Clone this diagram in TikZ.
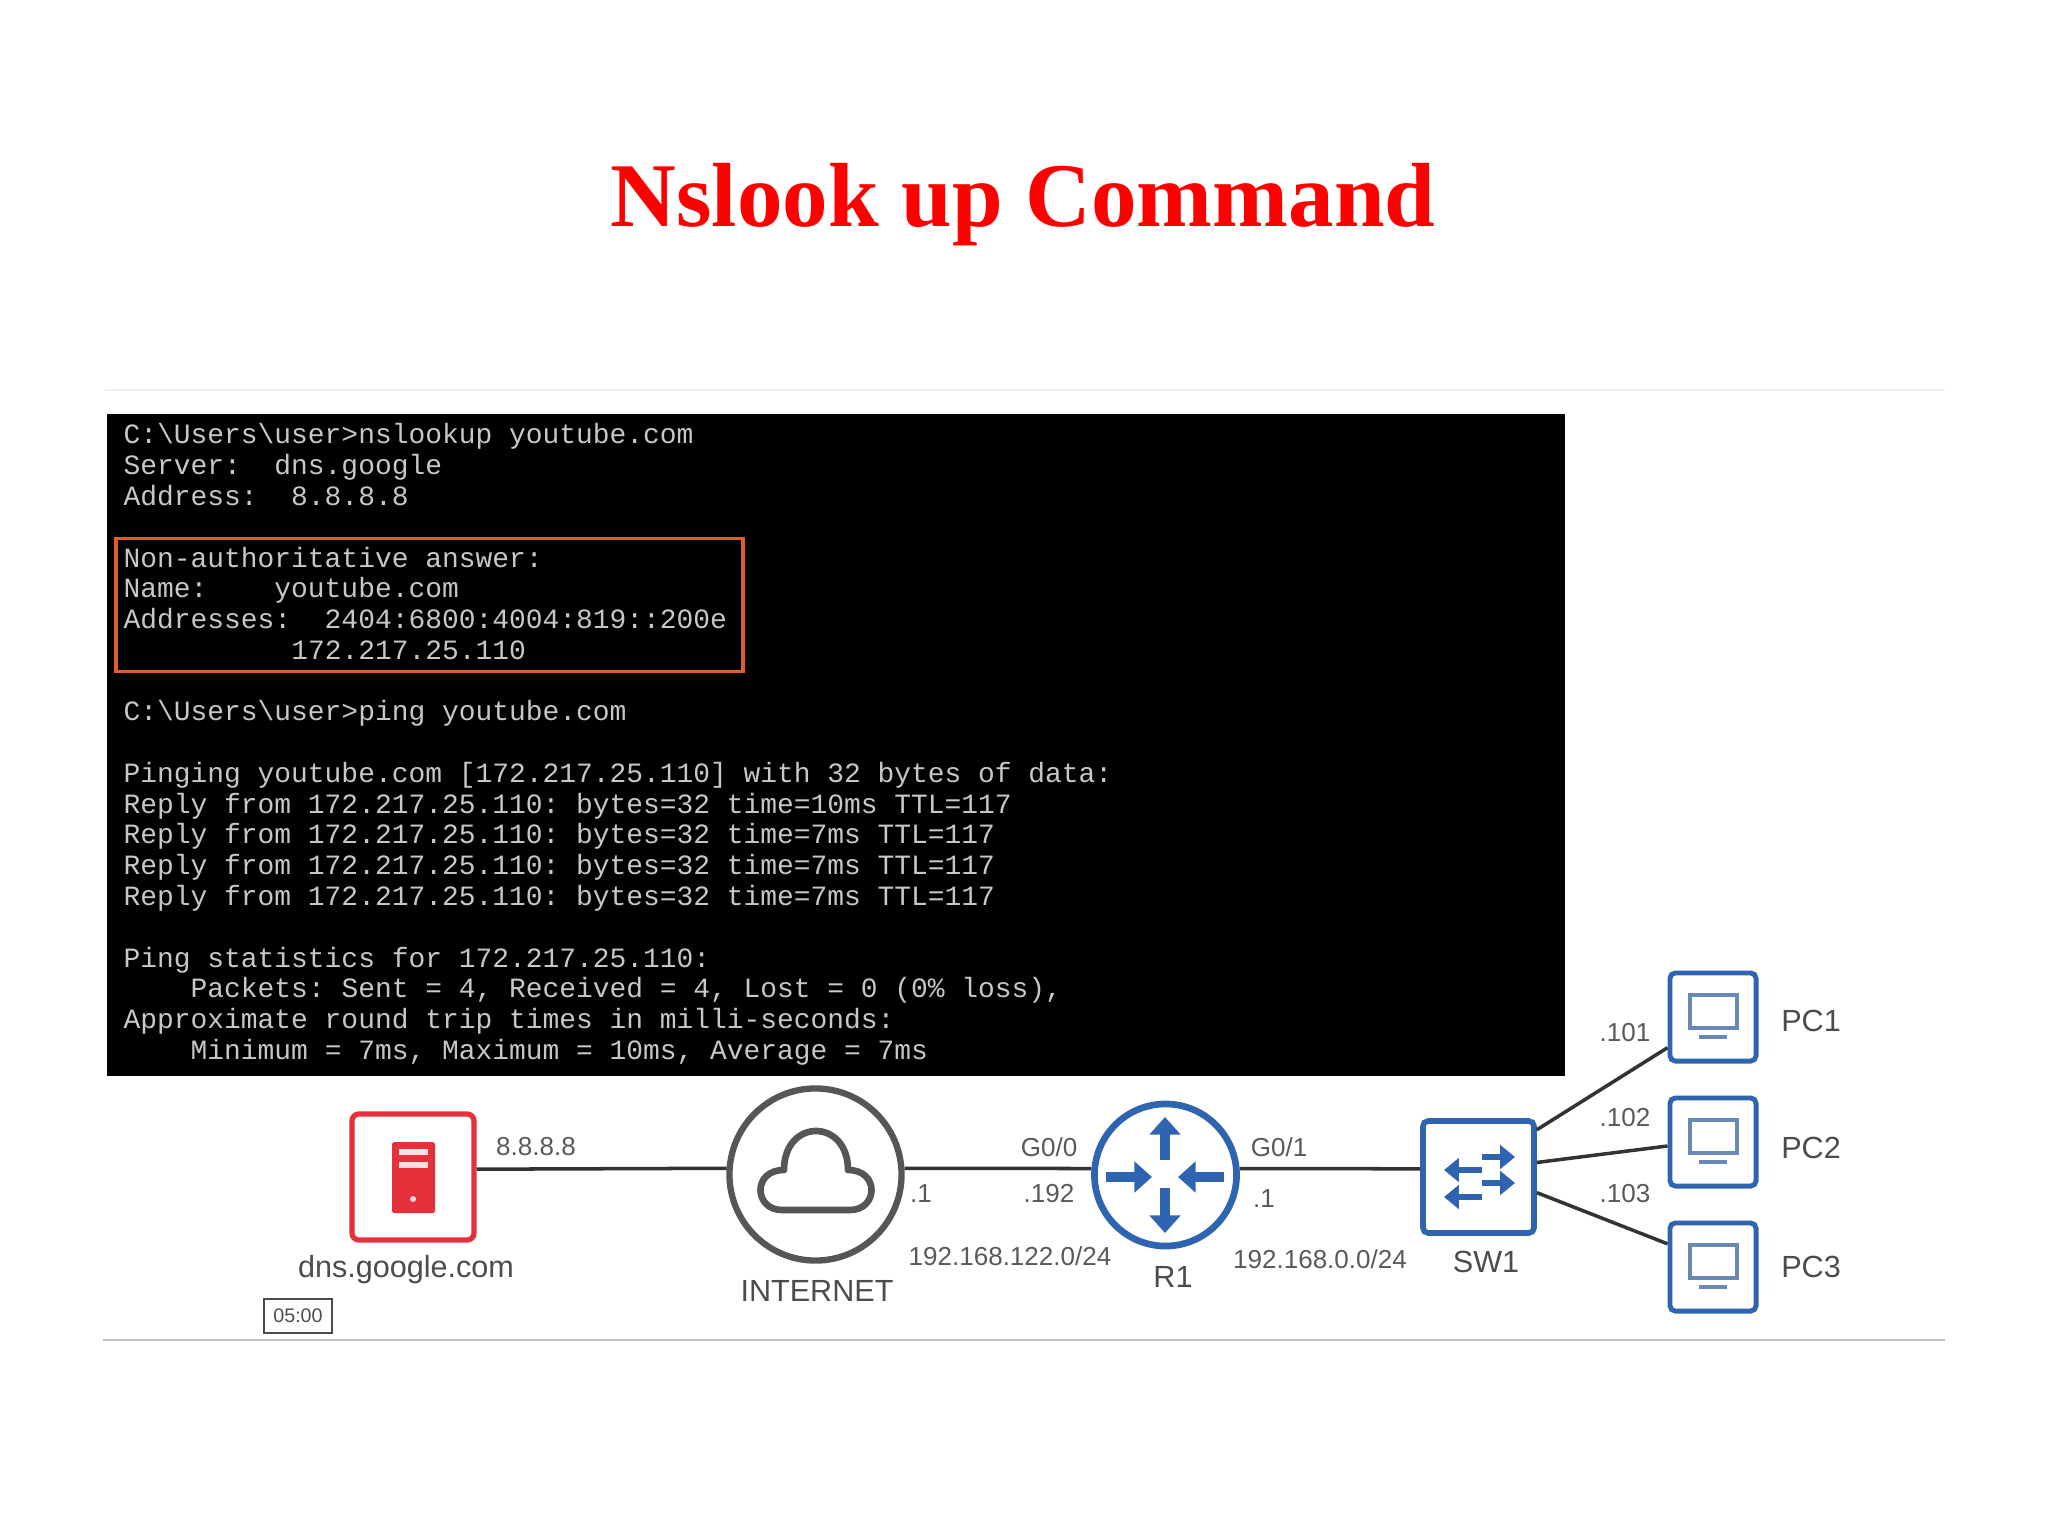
\documentclass[tikz,border=0pt]{standalone}
\usepackage{fontspec}
\setmainfont{Liberation Serif}
\setsansfont{Liberation Sans}
\setmonofont{Liberation Mono}
\usetikzlibrary{arrows.meta}
\definecolor{netblue}{HTML}{2F65B0}
\definecolor{dnsred}{HTML}{E5313C}
\definecolor{cloudgray}{HTML}{565656}
\tikzset{
  netlabel/.style={font=\sffamily\fontsize{7.4}{9}\selectfont,text=black!65,inner sep=0pt},
  devlabel/.style={font=\sffamily\fontsize{8.7}{10}\selectfont,text=black!70,inner sep=0pt},
  netlink/.style={draw=black!80,line width=1pt},
  pcbox/.style={draw=netblue,line width=1.4pt,rounded corners=1.5pt,minimum width=0.86cm,minimum height=0.88cm,inner sep=0pt},
  pcscreen/.style={draw=netblue!85!black!70,line width=0.9pt},
  fatarrow/.style={draw=netblue,line width=2.7pt,-{Triangle[length=5pt,width=8.6pt]}},
  thinarrow/.style={draw=netblue,line width=1.9pt,-{Triangle[length=4.2pt,width=6.6pt]}}
}
\begin{document}
\begin{tikzpicture}[x=0.01cm,y=-0.01cm]
      \useasboundingbox (0,0) rectangle (2048,1536);
      \node[font=\bfseries\fontsize{25.9}{30}\selectfont,text=red,inner sep=0pt] (title) at (1023,205) {Nslook up Command};
      \draw[black!6,line width=0.4pt] (105,390)--(1945,390);
      \draw[black!25,line width=0.6pt] (103,1340)--(1945,1340);
      % terminal window
      \node[fill=black,minimum width=14.58cm,minimum height=6.61cm,inner sep=0pt] (terminal) at (836,745) {};
      \node[anchor=north west,inner sep=0pt,align=left,text=black!22,font=\ttfamily\fontsize{7.94}{8.75}\selectfont] (termtext) at (123,423) {%
C:\textbackslash Users\textbackslash user>nslookup youtube.com\\
Server:~~dns.google\\
Address:~~8.8.8.8\\
~\\
Non-authoritative answer:\\
Name:~~~~youtube.com\\
Addresses:~~2404:6800:4004:819::200e\\
~~~~~~~~~~172.217.25.110\\
~\\
C:\textbackslash Users\textbackslash user>ping youtube.com\\
~\\
Pinging youtube.com [172.217.25.110] with 32 bytes of data:\\
Reply from 172.217.25.110: bytes=32 time=10ms TTL=117\\
Reply from 172.217.25.110: bytes=32 time=7ms TTL=117\\
Reply from 172.217.25.110: bytes=32 time=7ms TTL=117\\
Reply from 172.217.25.110: bytes=32 time=7ms TTL=117\\
~\\
Ping statistics for 172.217.25.110:\\
~~~~Packets: Sent = 4, Received = 4, Lost = 0 (0\% loss),\\
Approximate round trip times in milli-seconds:\\
~~~~Minimum = 7ms, Maximum = 10ms, Average = 7ms};
      \node[draw={rgb,255:red,222;green,95;blue,40},line width=1pt,minimum width=6.27cm,minimum height=1.33cm,inner sep=0pt] (answerbox) at (429.5,605) {};
      % devices
      \node[draw=dnsred,line width=1.5pt,rounded corners=2pt,minimum width=1.22cm,minimum height=1.26cm,inner sep=0pt] (dns) at (413,1177) {};
      \node[circle,draw=cloudgray,line width=1.8pt,minimum size=1.72cm,inner sep=0pt] (internet) at (815.5,1174.5) {};
      \node[circle,draw=netblue,line width=1.9pt,minimum size=1.42cm,inner sep=0pt] (router) at (1165.5,1175) {};
      \node[draw=netblue,line width=1.6pt,rounded corners=1.5pt,minimum width=1.11cm,minimum height=1.12cm,inner sep=0pt] (switch) at (1478.5,1177) {};
      \node[pcbox] (pc1) at (1713,1017) {};
      \node[pcbox] (pc2) at (1713,1142) {};
      \node[pcbox] (pc3) at (1713,1267) {};
      % links
      \draw[netlink] (dns.7)--(internet.176);
      \draw[netlink] (internet.4)--(router.175);
      \draw[netlink] (router.5)--(switch.172);
      \draw[netlink] (switch.39)--(pc1.214);
      \draw[netlink] (switch.14)--(pc2.185);
      \draw[netlink] (switch.-15)--(pc3.153);
      % server icon
      \fill[dnsred,rounded corners=0.5pt] (392,1142) rectangle (435,1213);
      \fill[white!85!dnsred] (399,1149) rectangle (428,1155);
      \fill[white!85!dnsred] (399,1162) rectangle (428,1168);
      \fill[white!85!dnsred] (413,1199) circle[radius=3];
      % cloud icon
      \draw[cloudgray,line width=1.9pt,line join=round] (782,1210)--(850,1210) .. controls (878,1210) and (880,1170) .. (848,1170) .. controls (848,1118) and (784,1118) .. (784,1170) .. controls (752,1170) and (754,1210) .. (782,1210)--cycle;
      % router arrows
      \draw[fatarrow] (1165,1160)--(1165,1117);
      \draw[fatarrow] (1165,1188)--(1165,1233);
      \draw[fatarrow] (1106,1177)--(1152,1177);
      \draw[fatarrow] (1224,1177)--(1178,1177);
      % switch arrows
      \draw[thinarrow] (1482,1157)--(1515,1157);
      \draw[thinarrow] (1482,1170)--(1444,1170);
      \draw[thinarrow] (1482,1183)--(1515,1183);
      \draw[thinarrow] (1482,1197)--(1444,1197);
      % pc screens
      \draw[pcscreen] (1690,995) rectangle (1737,1028);
      \draw[pcscreen] (1699,1037)--(1727,1037);
      \draw[pcscreen] (1690,1120) rectangle (1737,1153);
      \draw[pcscreen] (1699,1162)--(1727,1162);
      \draw[pcscreen] (1690,1245) rectangle (1737,1278);
      \draw[pcscreen] (1699,1287)--(1727,1287);
      % labels
      \node[netlabel] (dnsip) at (536,1147) {8.8.8.8};
      \node[devlabel] (dnsname) at (406,1270) {dns.google.com};
      \node[devlabel] (internetname) at (817,1291) {INTERNET};
      \node[netlabel] (wanip) at (921,1194) {.1};
      \node[netlabel] (wannet) at (1010,1256) {192.168.122.0/24};
      \node[netlabel] (gzero) at (1049,1147) {G0/0};
      \node[netlabel] (routerwan) at (1049,1194) {.192};
      \node[netlabel] (gone) at (1279,1147) {G0/1};
      \node[netlabel] (routerlan) at (1264,1199) {.1};
      \node[netlabel] (lannet) at (1320,1259) {192.168.0.0/24};
      \node[devlabel] (routername) at (1173,1277) {R1};
      \node[devlabel] (switchname) at (1486,1262) {SW1};
      \node[netlabel] (pconeip) at (1625,1033) {.101};
      \node[netlabel] (pctwoip) at (1625,1118) {.102};
      \node[netlabel] (pcthreeip) at (1625,1194) {.103};
      \node[devlabel] (pconename) at (1811,1021) {PC1};
      \node[devlabel] (pctwoname) at (1811,1148) {PC2};
      \node[devlabel] (pcthreename) at (1811,1267) {PC3};
      \node[draw=black!70,line width=0.4pt,minimum width=0.68cm,minimum height=0.34cm,inner sep=0pt,font=\sffamily\fontsize{5.6}{7}\selectfont,text=black!70] (timer) at (298,1316) {05:00};
    \end{tikzpicture}
\end{document}
